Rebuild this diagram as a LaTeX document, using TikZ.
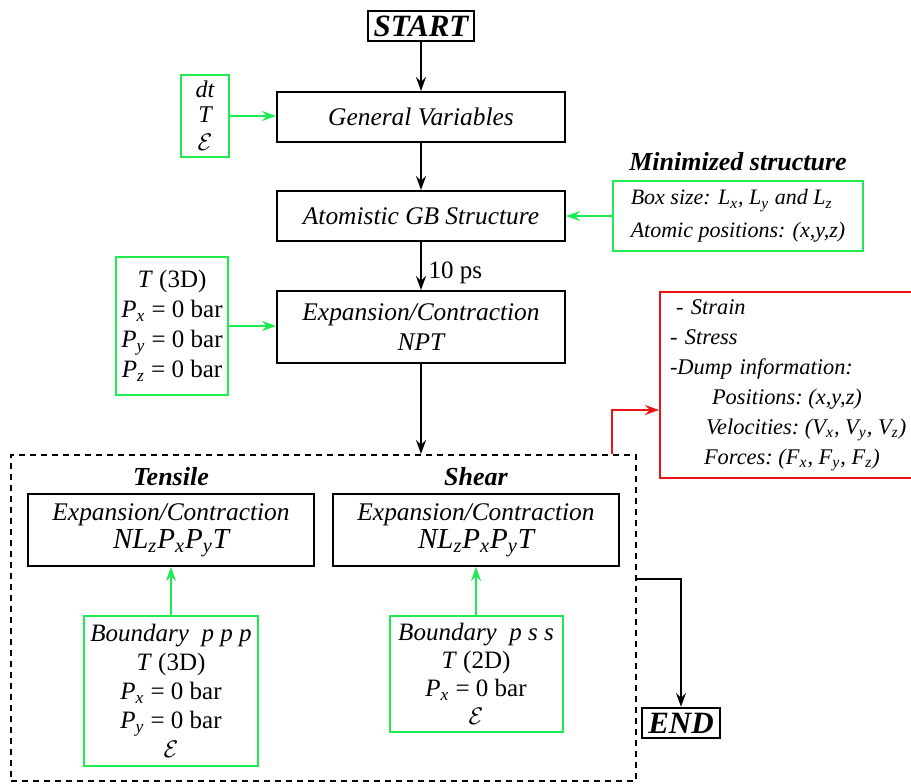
\documentclass[tikz,border=0pt]{standalone}
\usepackage{fontspec}
\setmainfont{Liberation Serif}
\usepackage{xcolor}
\usepackage{tikz}
\usetikzlibrary{arrows.meta,positioning}

\definecolor{paramgreen}{RGB}{30,235,80}
\definecolor{outred}{RGB}{235,20,20}
% italic letter with italic subscript
\newcommand{\isub}[2]{\textit{#1}\textsubscript{\textit{#2}}}
\newcommand{\strain}{$\mathcal{E}$}
\newcommand{\tsp}{\hspace{0.25em}}

\begin{document}
\begin{tikzpicture}[
    x=0.5pt,y=-0.5pt,
    every node/.style={font=\fontsize{12.5}{15}\selectfont},
    stepbox/.style={rectangle,draw,line width=1pt,minimum width=144pt,minimum height=25pt,align=center,inner sep=2pt,font=\fontsize{12.7}{15}\selectfont\itshape},
    termbox/.style={rectangle,draw,line width=1pt,inner xsep=3pt,inner ysep=2.5pt,font=\fontsize{15.5}{18}\selectfont\bfseries\itshape},
    parambox/.style={rectangle,draw=paramgreen,line width=1pt,align=center,inner sep=2pt},
    title/.style={font=\fontsize{13}{15}\selectfont\bfseries\itshape},
    arrow/.style={-{Stealth[length=7pt,width=5pt,inset=2.5pt]},line width=1pt},
    garrow/.style={arrow,draw=paramgreen},
    redarrow/.style={arrow,draw=outred}
]
    \useasboundingbox (0,0) rectangle (911,783);
    \clip (0,0) rectangle (911,783);

    % Main chain
    \node[termbox] (start) at (421,26) {START};
    \node[stepbox] (genvar) at (421,117) {General Variables};
    \node[stepbox] (gbstruct) at (421,216) {Atomistic GB Structure};
    \node[stepbox,minimum height=36pt] (npt) at (421,327) {Expansion/Contraction\\NPT};

    % Inputs
    \node[parambox,minimum width=24pt,minimum height=41pt,font=\fontsize{12}{12.5}\selectfont\itshape] (inputs) at (205,116) {dt\\T\\[1.5pt]\strain};
    \node[parambox,minimum width=125pt,minimum height=35pt,align=left,font=\fontsize{11}{16.5}\selectfont\itshape] (minstruct) at (738,216) {Box size: \isub{L}{x}, \isub{L}{y} and \isub{L}{z}\\Atomic positions: (x,y,z)};
    \node[title,above=1pt of minstruct] (mintitle) {Minimized structure};
    \node[parambox,minimum width=56pt,minimum height=69pt] (nptparams) at (172,326) {\textit{T} (3D)\\\isub{P}{x} = 0 bar\\\isub{P}{y} = 0 bar\\\isub{P}{z} = 0 bar};

    % Tests
    \node[draw,dashed,dash pattern=on 3pt off 2.5pt,line width=1pt,minimum width=312.5pt,minimum height=163pt,inner sep=0pt] (tests) at (323.5,618) {};
    \node[stepbox,minimum width=143pt,minimum height=36pt] (tensbox) at (171,530) {Expansion/Contraction\\[-1pt]{\fontsize{14.5}{15}\selectfont NL\textsubscript{z}P\textsubscript{x}P\textsubscript{y}T}};
    \node[stepbox,minimum width=143pt,minimum height=36pt] (shearbox) at (476,530) {Expansion/Contraction\\[-1pt]{\fontsize{14.5}{15}\selectfont NL\textsubscript{z}P\textsubscript{x}P\textsubscript{y}T}};
    \node[title,above=0pt of tensbox] (tenstitle) {Tensile};
    \node[title,above=0pt of shearbox] (sheartitle) {Shear};
    \node[parambox,minimum width=87pt,minimum height=75pt,font=\fontsize{12.5}{14.5}\selectfont] (tensbc) at (171,691) {\textit{Boundary~~p p p}\\\textit{T} (3D)\\\isub{P}{x} = 0 bar\\\isub{P}{y} = 0 bar\\\strain};
    \node[parambox,minimum width=86.5pt,minimum height=58pt,font=\fontsize{12.5}{14}\selectfont] (shearbc) at (476,674) {\textit{Boundary~~p s s}\\\textit{T} (2D)\\\isub{P}{x} = 0 bar\\\strain};

    % Output
    \node[rectangle,draw=outred,line width=1pt,minimum height=93pt,align=left,text width=140pt,inner xsep=5pt,font=\fontsize{11.2}{15}\selectfont\itshape] (dump) at (810,385) {\hspace*{3pt}- Strain\\- Stress\\-Dump information:\\\hspace*{21pt}Positions:\tsp(x,y,z)\\\hspace*{18pt}Velocities:\tsp(\isub{V}{x},\tsp\isub{V}{y},\tsp\isub{V}{z})\\\hspace*{17pt}Forces:\tsp(\isub{F}{x},\tsp\isub{F}{y},\tsp\isub{F}{z})};
    \node[termbox] (finish) at (681,723) {END};

    % Arrows
    \draw[arrow] (start) -- (genvar);
    \draw[arrow] (genvar) -- (gbstruct);
    \draw[arrow] (gbstruct) -- node[pos=0.65,right=0pt] {10 ps} (npt);
    \draw[arrow] (npt) -- (npt |- tests.north);
    \draw[garrow] (inputs.east) -- (inputs.east -| genvar.west);
    \draw[garrow] (minstruct) -- (gbstruct);
    \draw[garrow] (nptparams.east) -- (nptparams.east -| npt.west);
    \draw[garrow] (tensbc) -- (tensbox);
    \draw[garrow] (shearbc) -- (shearbox);
    \draw[redarrow] ([xshift=-12.5pt]tests.north east) |- ([yshift=-12.5pt]dump.west);
    \draw[arrow] ([yshift=19.5pt]tests.east) -| (finish);
\end{tikzpicture}
\end{document}
